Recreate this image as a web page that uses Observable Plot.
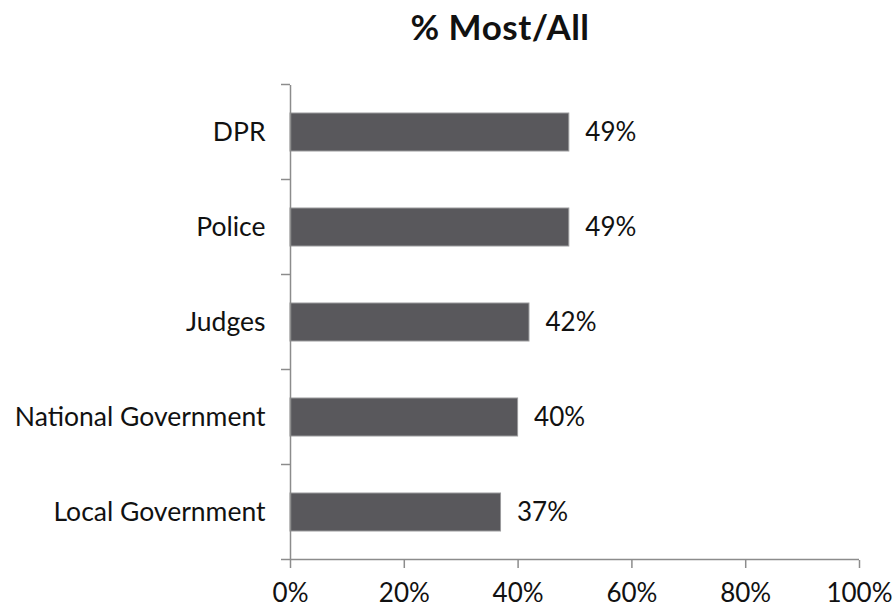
<!DOCTYPE html>
<html>
<head>
<meta charset="utf-8">
<script src="https://cdn.jsdelivr.net/npm/d3@7"></script>
<script src="https://cdn.jsdelivr.net/npm/@observablehq/plot@0.6"></script>
<style>
  html, body { margin: 0; padding: 0; background: #fff; }
  body { width: 896px; height: 607px; position: relative; overflow: hidden; font-family: Lato, "Open Sans", sans-serif; }
  #title { position: absolute; left: 0; width: 1000px; top: 6px; height: 55px; text-align: center; font-weight: 700; font-size: 35px; letter-spacing: 0.5px; color: #111; line-height: 40px; }
  #chart { position: absolute; left: 0; top: 65px; }
</style>
</head>
<body>
<div id="title">% Most/All</div>
<div id="chart"></div>
<script>
const categories = ["DPR", "Police", "Judges", "National Government", "Local Government"];
const values = [0.49, 0.49, 0.42, 0.40, 0.37];
const xTicks = [0, 0.2, 0.4, 0.6, 0.8, 1.0];

const data = categories.map((c, i) => ({category: c, value: values[i]}));
const padInner = 0.6;
const axisColor = "#8c8c8c";

function boundaryTicks(index, scales, vals, dimensions) {
  const y = scales.y, x = scales.x;
  const step = y(categories[1]) - y(categories[0]);
  const bw = step * (1 - padInner);
  const left = dimensions.marginLeft;
  const g = d3.create("svg:g").attr("stroke", axisColor).attr("stroke-width", 1.5);
  const ys = categories.map(c => y(c) + bw / 2 - step / 2);
  const bottom = y(categories[categories.length - 1]) + bw / 2 + step / 2;
  ys.push(bottom);
  for (const v of ys) {
    g.append("line").attr("x1", left - 9).attr("x2", left).attr("y1", v).attr("y2", v);
  }
  g.append("line").attr("x1", x(0)).attr("x2", x(1)).attr("y1", bottom).attr("y2", bottom);
  return g.node();
}

const plot = Plot.plot({
  width: 896,
  height: 542,
  marginTop: 20,
  marginBottom: 47,
  marginLeft: 290,
  marginRight: 37,
  style: {fontFamily: "Lato, 'Open Sans', sans-serif", fontSize: "26px", color: "#111", background: "#fff", overflow: "visible"},
  x: {domain: [0, 1], ticks: xTicks, tickFormat: d3.format(".0%"), label: null},
  y: {domain: categories, paddingInner: padInner, paddingOuter: 0.3, label: null},
  marks: [
    Plot.barX(data, {x: "value", y: "category", fill: "#59585c", stroke: "#9a9a9c", strokeWidth: 1}),
    Plot.ruleX([0], {stroke: axisColor, strokeWidth: 1.5}),
    boundaryTicks,
    Plot.axisX({ticks: xTicks, tickFormat: d3.format(".0%"), tickSize: 8, tickPadding: 15, stroke: axisColor, strokeWidth: 1.5, fontSize: 26, fill: "#111", label: null}),
    Plot.axisY({tickSize: 0, tickPadding: 25, fontSize: 26.5, fill: "#111", label: null}),
    Plot.text(data, {x: "value", y: "category", text: d => d3.format(".0%")(d.value), textAnchor: "start", dx: 16, fontSize: 26, fill: "#111"})
  ]
});
document.getElementById("chart").appendChild(plot);
</script>
</body>
</html>
